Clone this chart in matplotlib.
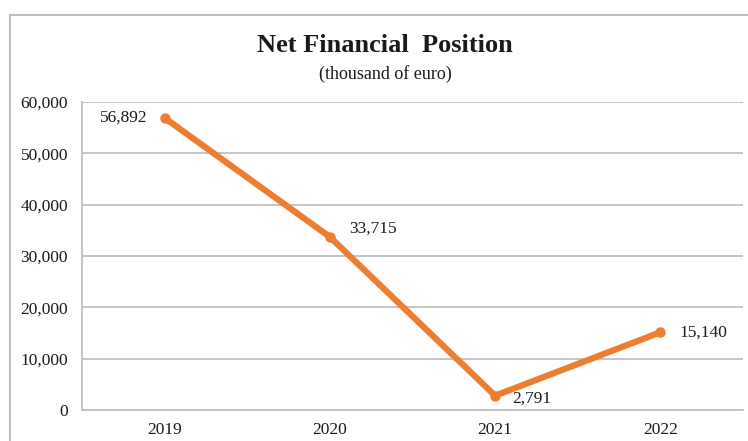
"""Net financial position, 2019-2022, as a single line chart."""

import matplotlib.pyplot as plt
from matplotlib.patches import Rectangle
from matplotlib.ticker import FuncFormatter

YEARS = ["2019", "2020", "2021", "2022"]
NET_POSITION = [56892, 33715, 2791, 15140]
Y_TICKS = [0, 10000, 20000, 30000, 40000, 50000, 60000]

LINE_COLOR = "#ED7D31"
GRID_COLOR = "#BFBFBF"
FONT = "Liberation Serif"

plt.rcParams["font.family"] = [FONT, "DejaVu Serif"]

fig = plt.figure(figsize=(7.48, 4.41), dpi=100)
ax = fig.add_axes([82 / 748, 1 - 410 / 441, (743 - 82) / 748, (410 - 102) / 441])

# outer chart frame, running off the right and bottom edges
fig.patches.append(Rectangle((10 / 748, -0.2), 1.2, 1 - 15 / 441 + 0.2,
                             transform=fig.transFigure, fill=False,
                             edgecolor=GRID_COLOR, lw=1.5, zorder=0))

x = list(range(len(YEARS)))
ax.plot(x, NET_POSITION, color=LINE_COLOR, lw=4.5, solid_capstyle="round",
        marker="o", ms=6.5, zorder=3)

# value labels beside each point
offsets = [(-12, 0, "right", "center"), (14, 6, "left", "center"),
           (12, -2, "left", "center"), (14, 0, "left", "center")]
for xi, val, (dx, dy, ha, va) in zip(x, NET_POSITION, offsets):
    ax.annotate(f"{val:,}", (xi, val), xytext=(dx, dy), textcoords="offset points",
                ha=ha, va=va, fontsize=12.5, color="#1a1a1a")

ax.set_xlim(-0.5, len(YEARS) - 0.5)
ax.set_ylim(0, 60000)
ax.set_xticks(x)
ax.set_xticklabels(YEARS)
ax.set_yticks(Y_TICKS)
ax.yaxis.set_major_formatter(FuncFormatter(lambda v, _: f"{int(v):,}"))
ax.tick_params(length=0, labelsize=12.5, labelcolor="#1a1a1a")
ax.tick_params(axis="y", pad=10)
ax.tick_params(axis="x", pad=9)

ax.grid(axis="y", color=GRID_COLOR, lw=1.3)
ax.set_axisbelow(True)
for side in ("top", "right"):
    ax.spines[side].set_visible(False)
for side in ("left", "bottom"):
    ax.spines[side].set_color(GRID_COLOR)
    ax.spines[side].set_linewidth(1.3)

fig.text(385 / 748, 1 - 45 / 441, "Net Financial  Position", ha="center", va="center",
         fontsize=19, fontweight="bold", color="#1a1a1a")
fig.text(385 / 748, 1 - 74 / 441, "(thousand of euro)", ha="center", va="center",
         fontsize=13, color="#1a1a1a")

fig.savefig("out.png", dpi=100, facecolor="white")
